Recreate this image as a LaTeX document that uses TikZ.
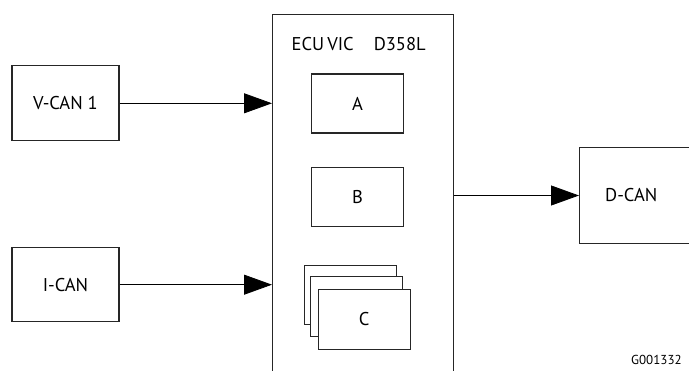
\documentclass[tikz,border=0pt]{standalone}
\usepackage{fontspec}
\setmainfont{PT Sans}
\usetikzlibrary{arrows.meta}
\begin{document}
\begin{tikzpicture}[x=1pt,y=-1pt,
  txt/.style={font=\fontsize{18.5}{22}\selectfont},
  box/.style={draw=black!85, line width=1.2pt, rectangle, inner sep=0pt, txt},
  lbl/.style={txt, inner sep=0pt},
  conn/.style={line width=0.8pt, -{Triangle[length=28pt,width=20pt]}}]
\clip (0,0) rectangle (689,371);
\useasboundingbox (0,0) rectangle (689,371);
% ECU
\node[box, minimum width=181, minimum height=390, anchor=north west] (ecu) at (272,14) {};
\node[lbl, anchor=west] (ecutitle) at (291.5,44) {ECU\,VIC\hspace{20pt}D358L};
\node[box, minimum width=92, minimum height=59] (a) at (357.5,103.5) {A};
\node[box, minimum width=92, minimum height=59] (b) at (357.5,197) {B};
\node[box, minimum width=92, minimum height=59, fill=white] (c3) at (350.2,295.3) {};
\node[box, minimum width=92, minimum height=60, fill=white] (c2) at (356.2,306.7) {};
\node[box, minimum width=92, minimum height=60, fill=white] (c1) at (364.2,319.3) {C};
% inputs
\node[box, minimum width=107, minimum height=75] (vcan) at (65.5,103.3) {V-CAN 1};
\node[box, minimum width=107, minimum height=74] (ican) at (65.5,284.7) {I-CAN};
% output
\node[box, minimum width=141, minimum height=96, anchor=west] (dcan) at (579,195.5) {};
\node[lbl, anchor=west] (dcanlbl) at (605,195.5) {D-CAN};
% connectors
\draw[conn] (vcan.east) -- (vcan.east -| ecu.west);
\draw[conn] (ican.east) -- (ican.east -| ecu.west);
\draw[conn] (ecu.east |- dcan.west) -- (dcan.west);
% code
\node[font=\fontsize{13}{15}\selectfont, anchor=base west, inner sep=0pt] (code) at (631,365) {G001332};
\end{tikzpicture}
\end{document}
